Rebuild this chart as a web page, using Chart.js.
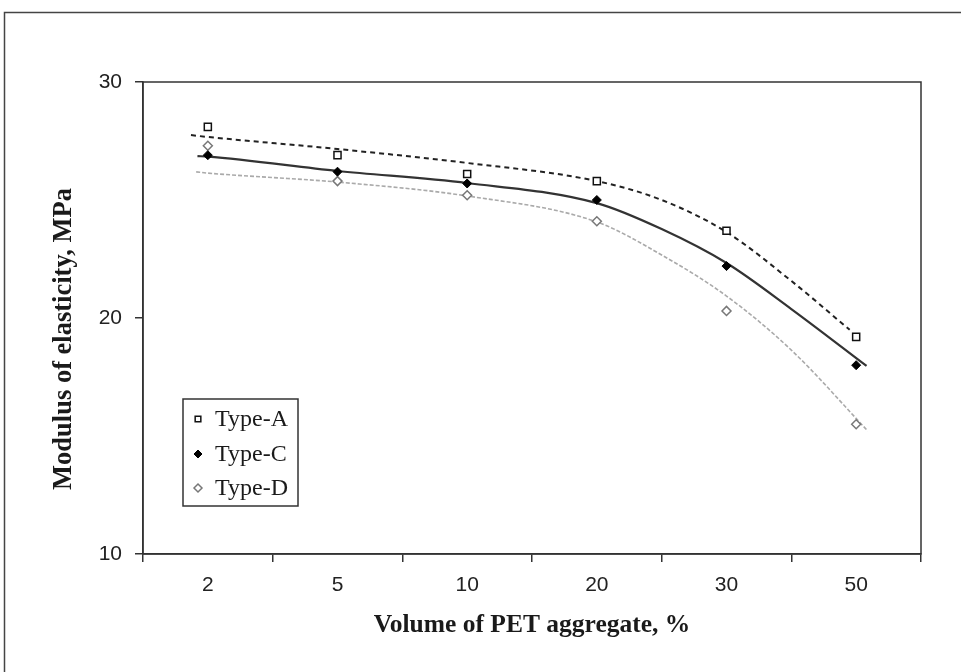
<!DOCTYPE html>
<html>
<head>
<meta charset="utf-8">
<script src="https://cdn.jsdelivr.net/npm/chart.js@4.4.1/dist/chart.umd.min.js"></script>
<style>
  html, body { margin: 0; padding: 0; background: #fff; }
  #wrap { position: relative; width: 961px; height: 672px; }
</style>
</head>
<body>
<div id="wrap"><canvas id="myChart" width="961" height="672"></canvas></div>
<script>
// categories (volume of PET aggregate, %)
var volumes = ['2', '5', '10', '20', '30', '50'];

// measured modulus of elasticity, MPa
var typeA = [28.1, 26.9, 26.1, 25.8, 23.7, 19.2];
var typeC = [26.9, 26.2, 25.7, 25.0, 22.2, 18.0];
var typeD = [27.3, 25.8, 25.2, 24.1, 20.3, 15.5];

// trend lines (x = category position, 0 = "2")
var trendX = [-0.13, 0, 1, 2, 3, 3.5, 4, 4.5, 4.95];
var trendA = [27.75, 27.67, 27.16, 26.57, 25.8, 25.0, 23.64, 21.57, 19.5];
var trendCX = [-0.08, 0, 1, 2, 3, 3.5, 4, 4.5, 5.08];
var trendC = [26.86, 26.84, 26.23, 25.72, 24.87, 23.77, 22.33, 20.38, 17.97];
var trendDX = [-0.09, 0, 1, 2, 3, 3.5, 4, 4.5, 5.09];
var trendD = [26.19, 26.14, 25.76, 25.17, 24.07, 22.67, 20.93, 18.64, 15.21];

var yTicks = [10, 20, 30];

function pairs(xs, ys) {
    var out = [];
    for (var i = 0; i < xs.length; i++) {
        out.push({ x: xs[i], y: ys[i] });
    }
    return out;
}

var frame = {
    id: 'frame',
    beforeDraw: function (chart) {
        var ctx = chart.ctx;
        ctx.save();
        ctx.strokeStyle = '#444';
        ctx.lineWidth = 1.5;
        ctx.strokeRect(4.5, 12.5, 1000, 1000);
        ctx.restore();
    },
    afterDraw: function (chart) {
        var ctx = chart.ctx;
        var a = chart.chartArea;
        ctx.save();
        ctx.strokeStyle = '#333';
        ctx.lineWidth = 1.5;
        ctx.strokeRect(a.left, a.top, a.right - a.left, a.bottom - a.top);

        // y axis title
        ctx.translate(64, 339);
        ctx.rotate(-Math.PI / 2);
        ctx.fillStyle = '#1a1a1a';
        ctx.font = 'bold 26.5px "Liberation Serif"';
        ctx.textAlign = 'center';
        ctx.textBaseline = 'middle';
        ctx.fillText('Modulus of elasticity, MPa', 0, 0);
        ctx.restore();

        // legend box
        ctx.save();
        ctx.strokeStyle = '#333';
        ctx.lineWidth = 1.5;
        ctx.strokeRect(183, 399, 115, 107);
        ctx.font = '24px "Liberation Serif"';
        ctx.fillStyle = '#1a1a1a';
        ctx.textBaseline = 'middle';
        var rows = [419, 454, 488];
        var n = 0;
        chart.data.datasets.forEach(function (ds) {
            if (!ds.inLegend) return;
            var y = rows[n++];
            ctx.fillStyle = ds.pointBackgroundColor;
            ctx.strokeStyle = ds.pointBorderColor;
            ctx.lineWidth = ds.pointBorderWidth;
            Chart.helpers.drawPoint(ctx, { pointStyle: ds.pointStyle, radius: ds.legendRadius, borderWidth: ds.pointBorderWidth, rotation: 0 }, 198, y);
            ctx.fillStyle = '#1a1a1a';
            ctx.fillText(ds.label, 215, y + 1);
        });
        ctx.restore();
    }
};

var ctx = document.getElementById('myChart').getContext('2d');
var myChart = new Chart(ctx, {
    type: 'line',
    data: {
        labels: volumes,
        datasets: [
            {
                label: 'Type-A', data: typeA, xAxisID: 'x', showLine: false, inLegend: true,
                pointStyle: 'rect', pointRadius: 5, legendRadius: 4, pointBorderWidth: 1.5,
                pointBorderColor: '#111', pointBackgroundColor: '#fff'
            },
            {
                label: 'Type-C', data: typeC, xAxisID: 'x', showLine: false, inLegend: true,
                pointStyle: 'rectRot', pointRadius: 4.5, legendRadius: 4, pointBorderWidth: 1,
                pointBorderColor: '#000', pointBackgroundColor: '#000'
            },
            {
                label: 'Type-D', data: typeD, xAxisID: 'x', showLine: false, inLegend: true,
                pointStyle: 'rectRot', pointRadius: 4.5, legendRadius: 4, pointBorderWidth: 1.5,
                pointBorderColor: '#777', pointBackgroundColor: '#fff'
            },
            {
                label: 'A trend', data: pairs(trendX, trendA), xAxisID: 'xl',
                borderColor: '#222', borderWidth: 2, borderDash: [5, 4], pointRadius: 0,
                cubicInterpolationMode: 'monotone'
            },
            {
                label: 'C trend', data: pairs(trendCX, trendC), xAxisID: 'xl',
                borderColor: '#333', borderWidth: 2.2, pointRadius: 0,
                cubicInterpolationMode: 'monotone'
            },
            {
                label: 'D trend', data: pairs(trendDX, trendD), xAxisID: 'xl',
                borderColor: '#aaa', borderWidth: 1.6, borderDash: [4, 2], pointRadius: 0,
                cubicInterpolationMode: 'monotone'
            }
        ]
    },
    options: {
        responsive: false,
        animation: false,
        layout: { padding: { left: 0, top: 82, right: 40, bottom: 0 } },
        plugins: {
            legend: { display: false },
            tooltip: { enabled: false }
        },
        scales: {
            x: {
                type: 'category',
                offset: true,
                afterFit: function (s) { s.height = 118; },
                grid: { offset: true, drawOnChartArea: false, drawTicks: true, tickLength: 8, color: '#333', lineWidth: 1.5 },
                border: { display: true, color: '#333', width: 1.5 },
                ticks: { color: '#222', padding: 11, font: { family: '"Liberation Sans", Arial', size: 21 } },
                title: {
                    display: true, text: 'Volume of PET aggregate, %', color: '#1a1a1a',
                    font: { family: '"Liberation Serif"', size: 25.5, weight: 'bold' },
                    padding: { top: 0, bottom: 31 }
                }
            },
            xl: {
                type: 'linear', display: false, min: -0.5, max: 5.5
            },
            y: {
                min: 10, max: 30,
                afterFit: function (s) { s.width = 143; },
                afterBuildTicks: function (s) { s.ticks = yTicks.map(function (v) { return { value: v }; }); },
                grid: { drawOnChartArea: false, drawTicks: true, tickLength: 8, color: '#333', lineWidth: 1.5 },
                border: { display: true, color: '#333', width: 1.5 },
                ticks: { color: '#222', padding: 13, font: { family: '"Liberation Sans", Arial', size: 21 } }
            }
        }
    },
    plugins: [frame]
});
</script>
</body>
</html>
